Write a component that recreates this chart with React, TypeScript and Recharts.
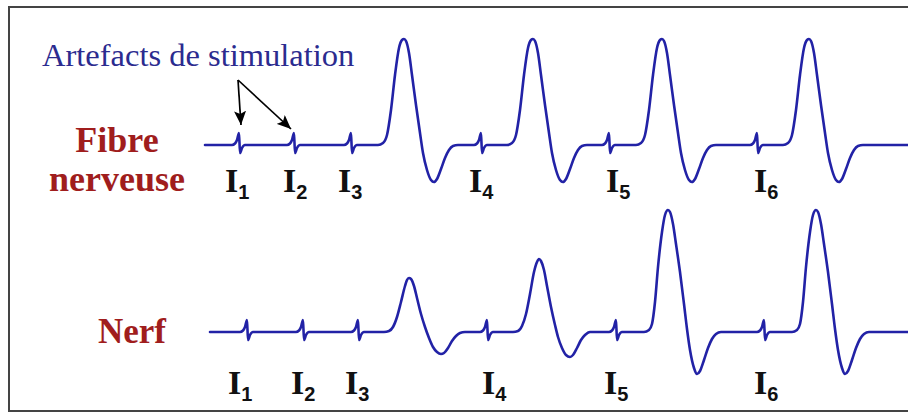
import React from 'react';
import { LineChart, Line, XAxis, YAxis } from 'recharts';

// time (px-scaled) and amplitude for each trace
const fibreTime = [
  205, 220,
  232, 235, 237, 239, 240, 242, 245,
  287, 290, 292, 294, 295, 297, 300,
  344, 347, 349, 351, 352, 354, 357,
  378, 383, 387, 391, 395, 399, 402, 404, 406, 409, 412, 416, 420, 423, 427, 431, 434, 437, 441, 445, 449, 453, 458,
  474, 477, 479, 481, 482, 484, 487,
  507, 512, 516, 520, 524, 528, 531, 533, 535, 538, 541, 545, 549, 552, 556, 560, 563, 566, 570, 574, 578, 582, 587,
  602, 605, 607, 609, 610, 612, 615,
  636, 641, 645, 649, 653, 657, 660, 662, 664, 667, 670, 674, 678, 681, 685, 689, 692, 695, 699, 703, 707, 711, 716,
  750, 753, 755, 757, 758, 760, 763,
  783, 788, 792, 796, 800, 804, 807, 809, 811, 814, 817, 821, 825, 828, 832, 836, 839, 842, 846, 850, 854, 858, 863,
  908,
];
const fibreAmp = [
  0, 0,
  0, 1.5, 5, 12, -8, -3, 0,
  0, 1.5, 5, 12, -8, -3, 0,
  0, 1.5, 5, 12, -8, -3, 0,
  0, 2, 10, 35, 70, 97, 105, 106, 104, 92, 70, 40, 12, -8, -25, -35, -37, -34, -24, -13, -5, -1, 0,
  0, 1.5, 5, 12, -8, -3, 0,
  0, 2, 10, 35, 70, 97, 105, 106, 104, 92, 70, 40, 12, -8, -25, -35, -37, -34, -24, -13, -5, -1, 0,
  0, 1.5, 5, 12, -8, -3, 0,
  0, 2, 10, 35, 70, 97, 105, 106, 104, 92, 70, 40, 12, -8, -25, -35, -37, -34, -24, -13, -5, -1, 0,
  0, 1.5, 5, 12, -8, -3, 0,
  0, 2, 10, 35, 70, 97, 105, 106, 104, 92, 70, 40, 12, -8, -25, -35, -37, -34, -24, -13, -5, -1, 0,
  0,
];

const nerfTime = [
  210, 225,
  240, 243, 245, 247, 248, 250, 253,
  296, 299, 301, 303, 304, 306, 309,
  351, 354, 356, 358, 359, 361, 364,
  384, 389, 393, 397, 401, 405, 407, 409, 411, 414, 417, 421, 425, 429, 433, 437, 441, 444, 448, 452, 456, 460, 465,
  480, 483, 485, 487, 488, 490, 493,
  513, 518, 522, 526, 530, 534, 537, 539, 541, 544, 547, 551, 555, 558, 562, 566, 570, 573, 577, 581, 585, 590,
  609, 612, 614, 616, 617, 619, 622,
  644, 649, 652, 655, 658, 662, 665, 668, 670, 673, 676, 680, 684, 687, 690, 694, 697, 700, 704, 708, 712, 716, 721,
  757, 760, 762, 764, 765, 767, 770,
  792, 797, 800, 803, 806, 810, 813, 816, 818, 821, 824, 828, 832, 835, 838, 842, 845, 848, 852, 856, 860, 864, 869,
  908,
];
const nerfAmp = [
  0, 0,
  0, 1.5, 5, 12, -8, -3, 0,
  0, 1.5, 5, 12, -8, -3, 0,
  0, 1.5, 5, 12, -8, -3, 0,
  0, 1, 5, 15, 30, 46, 52, 54, 53, 46, 34, 18, 5, -6, -15, -20, -22, -21, -16, -9, -4, -1, 0,
  0, 1.5, 5, 12, -8, -3, 0,
  0, 1, 6, 18, 38, 60, 70, 73, 71, 62, 46, 25, 7, -5, -16, -23, -25, -23, -16, -8, -3, 0,
  0, 1.5, 5, 12, -8, -3, 0,
  0, 2, 8, 30, 65, 100, 117, 122, 120, 108, 88, 60, 28, 3, -18, -36, -42, -39, -28, -16, -7, -2, 0,
  0, 1.5, 5, 12, -8, -3, 0,
  0, 2, 8, 30, 65, 100, 117, 122, 120, 108, 88, 60, 28, 3, -18, -36, -42, -39, -28, -16, -7, -2, 0,
  0,
];

const stimLabels = ['1', '2', '3', '4', '5', '6'];

const fibreData = fibreTime.map((t, i) => ({ t, v: fibreAmp[i] }));
const nerfData = nerfTime.map((t, i) => ({ t, v: nerfAmp[i] }));

// layout
const W = 908;
const H = 414;
const TRACE = '#2222a6';
const RED = '#a01d1d';
const fibreLabelX = [225, 283, 338, 469, 606, 754];
const nerfLabelX = [228, 291, 345, 482, 604, 754];

function StimLabel({ x, y, n }: { x: number; y: number; n: string }) {
  return (
    <text x={x} y={y} fill="#111" fontFamily="'Liberation Serif', serif" fontWeight="bold" fontSize={34}>
      I
      <tspan fontFamily="'Liberation Sans', Arial, sans-serif" fontWeight="bold" fontSize={20} dy={7}>
        {n}
      </tspan>
    </text>
  );
}

function Annotations() {
  return (
    <g>
      <defs>
        <marker id="head" markerUnits="userSpaceOnUse" markerWidth={15} markerHeight={12} refX={14} refY={6} orient="auto">
          <path d="M0,0 L14,6 L0,12 L3,6 z" fill="#000" />
        </marker>
      </defs>
      <path d={`M ${W + 2} 7 H 9 V 411 H ${W + 2}`} fill="none" stroke="#444" strokeWidth={2} />
      <text x={42} y={66} fill="#2b2b8f" fontFamily="'Liberation Serif', serif" fontSize={32.5}>
        Artefacts de stimulation
      </text>
      <line x1={238} y1={80} x2={241} y2={125} stroke="#000" strokeWidth={1.7} markerEnd="url(#head)" />
      <line x1={238} y1={80} x2={291} y2={129} stroke="#000" strokeWidth={1.7} markerEnd="url(#head)" />
      <g fill={RED} fontFamily="'Liberation Serif', serif" fontWeight="bold" fontSize={36}>
        <text x={117} y={152} textAnchor="middle">Fibre</text>
        <text x={117} y={191} textAnchor="middle">nerveuse</text>
        <text x={98} y={343} fontSize={35}>Nerf</text>
      </g>
      {stimLabels.map((n, i) => (
        <StimLabel key={'f' + n} x={fibreLabelX[i]} y={192} n={n} />
      ))}
      {stimLabels.map((n, i) => (
        <StimLabel key={'n' + n} x={nerfLabelX[i]} y={394} n={n} />
      ))}
    </g>
  );
}

export default function App() {
  return (
    <div style={{ position: 'fixed', left: 0, top: 0, width: W, height: H, background: '#fff' }}>
      <LineChart width={W} height={H} margin={{ top: 0, right: 0, bottom: 0, left: 0 }}>
        <XAxis type="number" dataKey="t" domain={[0, W]} hide />
        <YAxis yAxisId="fibre" type="number" domain={[-269, 145]} hide allowDataOverflow />
        <YAxis yAxisId="nerf" type="number" domain={[-82, 332]} hide allowDataOverflow />
        <Annotations />
        <Line
          data={fibreData}
          dataKey="v"
          yAxisId="fibre"
          type="monotone"
          stroke={TRACE}
          strokeWidth={2.6}
          strokeLinejoin="round"
          strokeLinecap="round"
          dot={false}
          activeDot={false}
          isAnimationActive={false}
        />
        <Line
          data={nerfData}
          dataKey="v"
          yAxisId="nerf"
          type="monotone"
          stroke={TRACE}
          strokeWidth={2.6}
          strokeLinejoin="round"
          strokeLinecap="round"
          dot={false}
          activeDot={false}
          isAnimationActive={false}
        />
      </LineChart>
    </div>
  );
}
